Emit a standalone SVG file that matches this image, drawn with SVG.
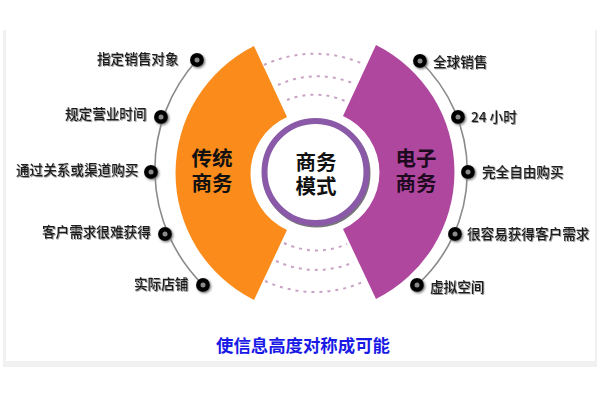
<svg xmlns="http://www.w3.org/2000/svg" width="600" height="400" viewBox="0 0 600 400">
<style>
text{font-family:"Noto Sans CJK SC","Liberation Sans",sans-serif}
.lab{font-size:13.6px;font-weight:500;fill:#1c1c1c;filter:url(#soft)}
.big{font-size:20.5px;font-weight:700;text-anchor:middle}
.dash{fill:none;stroke:#c9a3c4;stroke-width:2;stroke-dasharray:3 5}
.rim{fill:none;stroke:#8a8a8a;stroke-width:1.6}
.dot{fill:#050505;filter:url(#shade)}
.eye{fill:#8a8a8a}
</style>
<defs>
<filter id="soft" x="-5%" y="-20%" width="115%" height="150%"><feDropShadow dx="0.8" dy="0.8" stdDeviation="0.6" flood-color="#777"/></filter>
<filter id="shade" x="-40%" y="-40%" width="190%" height="190%"><feDropShadow dx="1.2" dy="1.2" stdDeviation="0.8" flood-color="#777"/></filter>
</defs>
<rect width="600" height="400" fill="#fff"/>
<path d="M3 30H6V361H595V30H597V367H3Z" fill="#f1f1f1"/>
<g id="connectors">
<path class="dash" d="M264 65A119 119 0 0 1 363 64"/>
<path class="dash" d="M278 85A95 95 0 0 1 355 84"/>
<path class="dash" d="M287 100A75 75 0 0 1 345 101"/>
<path class="dash" d="M265 281A119 119 0 0 0 365 281"/>
<path class="dash" d="M276 261A95 95 0 0 0 354 262"/>
<path class="dash" d="M284 243A75 75 0 0 0 347 244"/>
<path class="rim" d="M197 60A163 163 0 0 0 203 285"/>
<path class="rim" d="M420 61A153 153 0 0 1 417 285"/>
</g>
<g id="left-wedge">
<path d="M254 46A142 142 0 0 0 254 300L287 230A62 62 0 0 1 287 117Z" fill="#fb8c1c"/>
<text class="big" fill="#111"><tspan x="212" y="166">传统</tspan><tspan x="212" y="191">商务</tspan></text>
</g>
<g id="right-wedge">
<path d="M376 45A142 142 0 0 1 376 299L343 229A62 62 0 0 0 343 116Z" fill="#b0479f"/>
<text class="big" fill="#1e0a1e"><tspan x="416" y="166">电子</tspan><tspan x="416" y="191">商务</tspan></text>
</g>
<g id="center">
<circle cx="316.5" cy="173.5" r="51" fill="none" stroke="#777" stroke-width="6"/>
<circle cx="315.5" cy="172" r="51" fill="#fff" stroke="#8a5aa8" stroke-width="6"/>
<text class="big" fill="#111"><tspan x="316" y="170">商务</tspan><tspan x="316" y="194">模式</tspan></text>
</g>
<g id="n1"><circle class="dot" cx="197" cy="60" r="7"/><circle class="eye" cx="197" cy="60" r="2.5"/><text class="lab" x="97" y="64">指定销售对象</text></g>
<g id="n2"><circle class="dot" cx="161" cy="117" r="7"/><circle class="eye" cx="161" cy="117" r="2.5"/><text class="lab" x="65" y="119">规定营业时间</text></g>
<g id="n3"><circle class="dot" cx="151" cy="172" r="7"/><circle class="eye" cx="151" cy="172" r="2.5"/><text class="lab" x="16" y="175">通过关系或渠道购买</text></g>
<g id="n4"><circle class="dot" cx="165" cy="234" r="7"/><circle class="eye" cx="165" cy="234" r="2.5"/><text class="lab" x="42" y="237">客户需求很难获得</text></g>
<g id="n5"><circle class="dot" cx="203" cy="285" r="7"/><circle class="eye" cx="203" cy="285" r="2.5"/><text class="lab" x="134" y="289">实际店铺</text></g>
<g id="n6"><circle class="dot" cx="420" cy="61" r="7"/><circle class="eye" cx="420" cy="61" r="2.5"/><text class="lab" x="433" y="67">全球销售</text></g>
<g id="n7"><circle class="dot" cx="458" cy="117" r="7"/><circle class="eye" cx="458" cy="117" r="2.5"/><text class="lab" x="471" y="122">24 小时</text></g>
<g id="n8"><circle class="dot" cx="468" cy="172" r="7"/><circle class="eye" cx="468" cy="172" r="2.5"/><text class="lab" x="482" y="177">完全自由购买</text></g>
<g id="n9"><circle class="dot" cx="455" cy="234" r="7"/><circle class="eye" cx="455" cy="234" r="2.5"/><text class="lab" x="467" y="239">很容易获得客户需求</text></g>
<g id="n10"><circle class="dot" cx="417" cy="285" r="7"/><circle class="eye" cx="417" cy="285" r="2.5"/><text class="lab" x="430" y="292">虚拟空间</text></g>
<text id="caption" x="216" y="352" font-size="17.4" font-weight="700" fill="#1a1ae6">使信息高度对称成可能</text>
</svg>
